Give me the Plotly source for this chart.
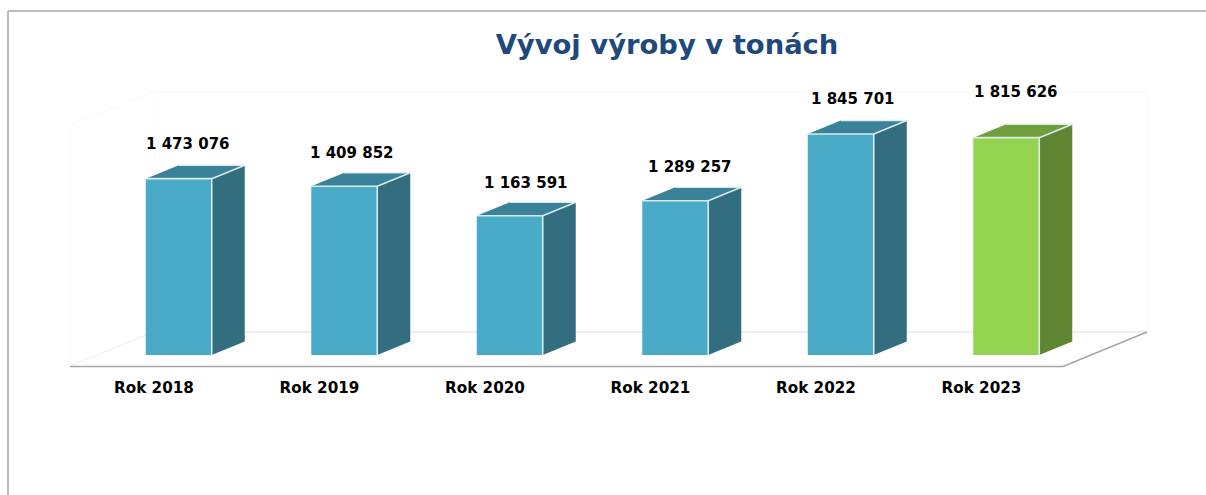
import plotly.graph_objects as go

categories = ["Rok 2018", "Rok 2019", "Rok 2020", "Rok 2021", "Rok 2022", "Rok 2023"]
values = [1473076, 1409852, 1163591, 1289257, 1845701, 1815626]
highlight = "Rok 2023"
title_text = "Vývoj výroby v tonách"

W, H = 1206, 495
PL, PT, PB = 70, 0, 366                # plot box in page pixels
FLOOR_R = 1063                         # right end of the front floor edge
PR = 1147                              # plot box runs on to the back-right corner so 3D faces are not clipped
BASE_PX = 355                          # pixel row of value 0 (bars stand inside the floor)
UNITS_PER_PX = 1 / 1.197e-4
CAT_PX = (FLOOR_R - PL) / len(categories)
y0 = -(PB - BASE_PX) * UNITS_PER_PX
y1 = (BASE_PX - PT) * UNITS_PER_PX

BAR_W = 66 / CAT_PX
BAR_OFF = -7 / CAT_PX
DEPTH_X = 33 / CAT_PX
DEPTH_Y = 13.5 * UNITS_PER_PX
TICK_SHIFT = 1.2 / CAT_PX

BLUE = dict(front="#4aabc8", top="#39829a", side="#326e7f")
GREEN = dict(front="#92d350", top="#6f9e3c", side="#5f8733")
EDGE = "rgba(225,238,240,0.95)"
FONT = "DejaVu Sans"

# label shift relative to the category centre, pixels
label_dx = [35, 34, 42, 41, 38, 36]
label_dy = [35, 33.5, 33, 34, 35, 46]

fig = go.Figure()
pal = [GREEN if c == highlight else BLUE for c in categories]

fig.add_trace(go.Bar(
    x=list(range(len(categories))), y=values, width=BAR_W, offset=BAR_OFF,
    marker=dict(color=[p["front"] for p in pal], line=dict(width=0)),
    hoverinfo="skip", cliponaxis=False,
))

for i, v in enumerate(values):
    xl = i + BAR_OFF
    xr = xl + BAR_W
    fig.add_trace(go.Scatter(
        x=[xr, xr + DEPTH_X, xr + DEPTH_X, xr, xr],
        y=[0, DEPTH_Y, v + DEPTH_Y, v, 0],
        mode="none", fill="toself", fillcolor=pal[i]["side"],
        hoverinfo="skip", cliponaxis=False,
    ))
    fig.add_trace(go.Scatter(
        x=[xl, xl + DEPTH_X, xr + DEPTH_X, xr, xl],
        y=[v, v + DEPTH_Y, v + DEPTH_Y, v, v],
        mode="none", fill="toself", fillcolor=pal[i]["top"],
        hoverinfo="skip", cliponaxis=False,
    ))
    # lit edges: front top and right, top-right slant, back edge
    fig.add_trace(go.Scatter(
        x=[xl, xr, xr, None, xr, xr + DEPTH_X, None, xl + DEPTH_X, xr + DEPTH_X],
        y=[v, v, 0, None, v, v + DEPTH_Y, None, v + DEPTH_Y, v + DEPTH_Y],
        mode="lines", line=dict(color=EDGE, width=1.6),
        hoverinfo="skip", cliponaxis=False,
    ))

annotations = [
    dict(x=i, y=v, xref="x", yref="y", xshift=label_dx[i], yshift=label_dy[i],
         text=f"{v:,}".replace(",", " "), showarrow=False,
         font=dict(family=FONT, size=15, color="#000000", weight="bold"),
         xanchor="center", yanchor="middle")
    for i, v in enumerate(values)
]


def px_x(p):
    return (p - PL) / (PR - PL)


def px_y(p):
    return (PB - p) / (PB - PT)


def seg(a, b, c, d, color, width):
    return dict(type="line", xref="paper", yref="paper", layer="below",
                x0=px_x(a), y0=px_y(b), x1=px_x(c), y1=px_y(d),
                line=dict(color=color, width=width))


FAINT = "#fafafa"
shapes = [
    seg(8, 11, W, 11, "#a6a6a6", 1.5),
    seg(8, 11, 8, H, "#a6a6a6", 1.5),
    seg(70, 125, 154, 92, FAINT, 1),
    seg(154, 92, 1147, 92, FAINT, 1),
    seg(70, 125, 70, 366, FAINT, 1),
    seg(154, 92, 154, 332, FAINT, 1),
    seg(1147, 92, 1147, 332, FAINT, 1),
    seg(70, 366, 154, 332, "#eeeeee", 1),
    seg(154, 332, 1147, 332, "#e8e8e8", 1.5),
    seg(PL, 366.5, FLOOR_R, 366.5, "#a6a6a6", 1.5),
    seg(FLOOR_R, 366.5, 1147, 332, "#a6a6a6", 1.5),
]

fig.update_layout(
    width=W, height=H, autosize=False,
    margin=dict(l=PL, r=W - PR, t=PT, b=H - PB, pad=0),
    paper_bgcolor="white", plot_bgcolor="rgba(0,0,0,0)",
    showlegend=False, barmode="overlay",
    title=dict(text=f"<b>{title_text}</b>", x=667 / W, y=1 - 44 / H,
               xref="container", yref="container", xanchor="center", yanchor="middle",
               font=dict(family=FONT, size=27.4, color="#1f497d")),
    xaxis=dict(range=[-0.5, -0.5 + (PR - PL) / CAT_PX], tickmode="array",
               tickvals=[i + TICK_SHIFT for i in range(len(categories))], ticktext=categories,
               showgrid=False, zeroline=False, showline=False,
               ticks="", ticklen=0, ticklabelstandoff=11,
               tickfont=dict(family=FONT, size=15.2, color="#000000", weight="bold")),
    yaxis=dict(range=[y0, y1], visible=False),
    shapes=shapes, annotations=annotations,
)
fig.write_html("out.html", config=dict(displayModeBar=False),
               post_script="document.body.style.margin='0';")
